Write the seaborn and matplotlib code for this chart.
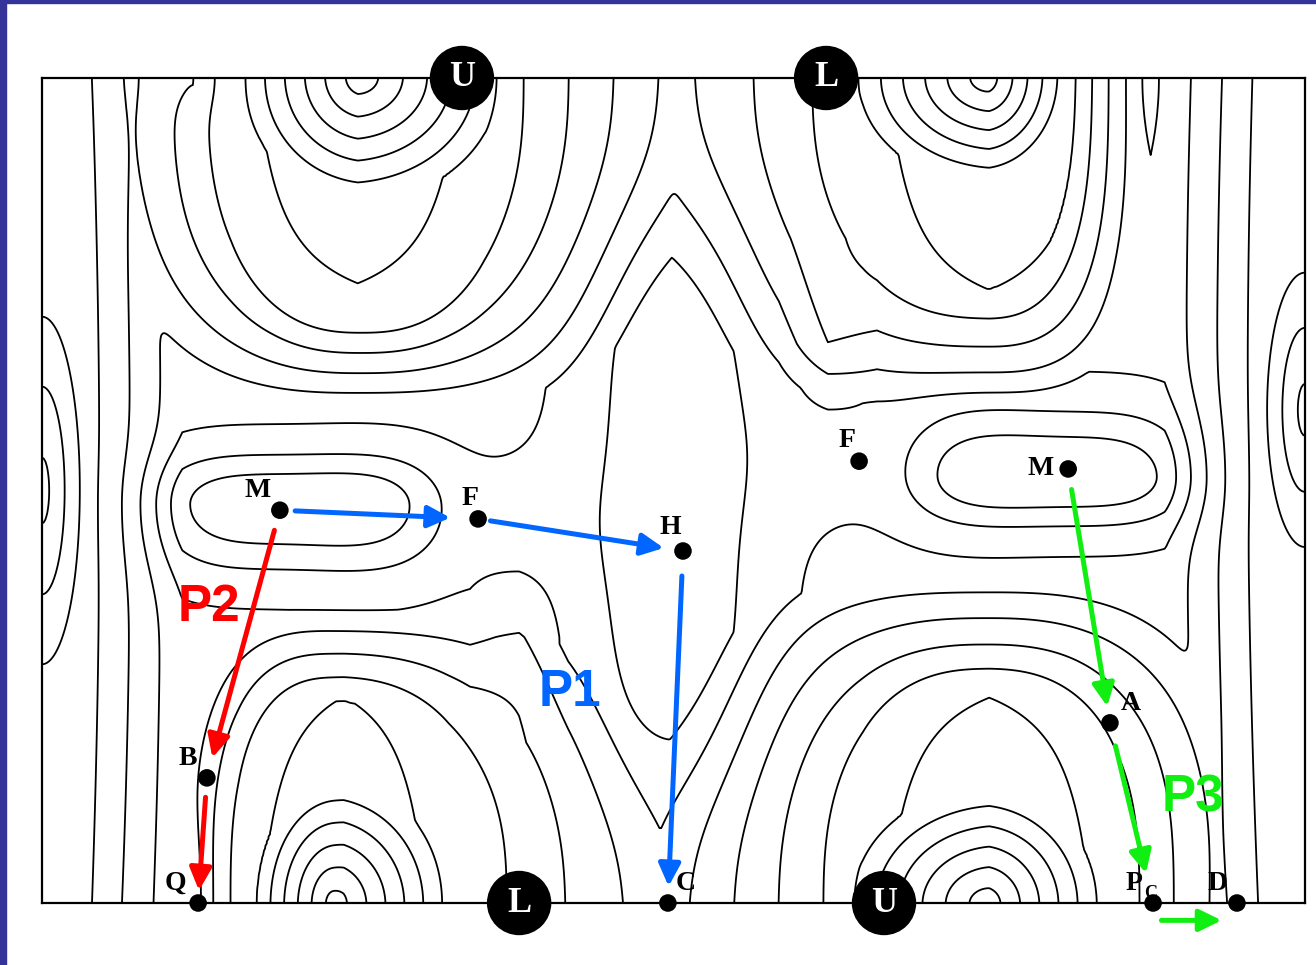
import numpy as np
import pandas as pd
import matplotlib
matplotlib.use("Agg")
import matplotlib.pyplot as plt
from matplotlib.patches import Rectangle
from matplotlib.transforms import offset_copy
import seaborn as sns

# ---------------------------------------------------------------
# Stationary points on the (phi, theta) conformational map, degrees
# ---------------------------------------------------------------
point_names = ["M", "F", "H", "B", "Q", "C", "F", "M", "A", "P", "D"]
point_phi = [67.8, 124.3, 182.7, 47.0, 44.5, 178.4, 232.9, 292.5, 304.4, 316.7, 340.6]
point_theta = [85.7, 83.8, 76.8, 27.3, 0.0, 0.0, 96.4, 94.7, 39.3, 0.0, 0.0]

# Boundary conformers marked on the top and bottom edges
edge_names = ["U", "L", "L", "U"]
edge_phi = [119.7, 223.5, 136.0, 240.0]
edge_theta = [180.0, 180.0, 0.0, 0.0]

# Pathways as pairs of point indices
path_P1 = [(0, 1), (1, 2), (2, 5)]
path_P2 = [(0, 3), (3, 4)]
path_P3 = [(7, 8), (8, 9)]
path_P3_edge = [(9, 10)]

# ---------------------------------------------------------------
# Energy surface (kcal/mol)
# ---------------------------------------------------------------
surface_base = 3.3

# plateaus (smooth maximum): TL, BR, TR, BL, left edge, right edge
mesa_phi = [91, 269, 269, 83, 0, 360]
mesa_theta = [180, 0, 180, 0, 90, 108]
mesa_height = [4.5, 4.5, 3.5, 3.5, 3.2, 3.2]
mesa_in_l = [36, 36, 36, 25, 12, 12]
mesa_in_r = [36, 36, 25, 36, 12, 12]
mesa_in_d = [52, 10, 46, 10, 200, 200]
mesa_in_u = [10, 46, 10, 44, 200, 200]
mesa_out_l = [80, 94, 95, 44, 40, 40]
mesa_out_r = [94, 80, 44, 95, 40, 40]
mesa_out_d = [72, 10, 72, 10, 300, 300]
mesa_out_u = [10, 72, 10, 64, 300, 300]
mesa_p_in = [2.5, 2.5, 2.5, 2.5, 2, 2]
mesa_p_out = [3, 3, 3, 3, 2, 2]

# cones (added on top of the plateaus)
cone_phi = [91, 269, 269, 83, 0, 360]
cone_theta = [180, 0, 180, 0, 90, 107.6]
cone_height = [5.0, 5.0, 5.0, 5.0, 3.0, 3.0]
cone_rl = [34, 40, 38, 22, 13, 13]
cone_rr = [42, 32, 24, 32, 13, 13]
cone_rd = [26, 10, 22, 10, 45.6, 36]
cone_ru = [10, 24, 10, 26, 45.6, 36]

# straight-sided ridges: rise from tip to crest, fade out towards end
wedge_phi = [90, 270, 86, 270, 224, 136]
wedge_tip = [124, 122, 58, 56, 105, 75]
wedge_crest = [180, 180, 0, 0, 122, 58]
wedge_end = [999, 999, -999, -999, 145, 35]
wedge_height = [1.0, 1.0, 0.9, 1.0, 0.8, 0.8]
wedge_w = [36, 36, 30, 36, 14, 14]

# wells: M, M, H valley, two F passes
well_phi = [72, 288, 180, 126, 234]
well_theta = [87, 93, 89, 83, 97]
well_depth = [-3.2, -3.2, -2.12, -0.5, -0.5]
well_wl = [33, 33, 18.2, 25, 25]
well_wr = [33, 33, 18.2, 25, 25]
well_wd = [10.5, 8, 53.7, 12, 12]
well_wu = [8, 10.5, 52.3, 12, 12]
well_px = [4, 4, 2, 2, 2]
well_py = [2, 2, 4, 2, 2]

# narrow grooves entering from the top and bottom edges
groove_phi = [316, 44, 43]
groove_theta = [180, 0, 180]
groove_depth = [-0.8, -0.8, -0.6]
groove_w = [1.2, 1.2, 3.0]
groove_len = [12, 12, 5]

contour_levels = list(range(1, 15))

# ---------------------------------------------------------------
phi = np.linspace(0, 360, 721)
theta = np.linspace(0, 180, 361)
PHI, THETA = np.meshgrid(phi, theta)


def side(d, neg, pos):
    return np.where(d < 0, neg, pos)


def bump(x0, y0, a, wl, wr, wd, wu, px, py):
    dx = PHI - x0
    dy = THETA - y0
    e = np.abs(dx / side(dx, wl, wr)) ** px + np.abs(dy / side(dy, wd, wu)) ** py
    return a * np.exp(-0.5 * e)


def mesa(x0, y0, h, il, ir, idn, iup, ol, orr, odn, oup, pin, pout):
    dx = PHI - x0
    dy = THETA - y0
    ri = (np.abs(dx / side(dx, il, ir)) ** pin
          + np.abs(dy / side(dy, idn, iup)) ** pin) ** (1 / pin)
    ro = (np.abs(dx / side(dx, ol, orr)) ** pout
          + np.abs(dy / side(dy, odn, oup)) ** pout) ** (1 / pout)
    with np.errstate(divide="ignore", invalid="ignore"):
        f = ri * (1 - ro) / (ri - ro)
    f = np.where(ri <= 1, 1.0, f)
    f = np.where(ro >= 1, 0.0, f)
    return h * np.clip(np.nan_to_num(f, nan=1.0), 0, 1)


def cone(x0, y0, h, rl, rr, rd, ru):
    dx = PHI - x0
    dy = THETA - y0
    r = np.sqrt((dx / side(dx, rl, rr)) ** 2 + (dy / side(dy, rd, ru)) ** 2
                + 0.003)
    return h * np.clip(1 - r, 0, None)


def wedge(x0, tip, crest, end, a, w):
    tent = np.clip(1 - np.abs(PHI - x0) / w, 0, 1)
    rise = np.clip((THETA - tip) / (crest - tip), 0, 1)
    fade = np.clip((end - THETA) / (end - crest), 0, 1)
    return a * tent * rise * fade


plateaus = [mesa(*a) for a in zip(mesa_phi, mesa_theta, mesa_height,
                                   mesa_in_l, mesa_in_r, mesa_in_d, mesa_in_u,
                                   mesa_out_l, mesa_out_r, mesa_out_d,
                                   mesa_out_u, mesa_p_in, mesa_p_out)]
m = 5.0
Z = surface_base + np.sum(np.array(plateaus) ** m, axis=0) ** (1 / m)
for a in zip(cone_phi, cone_theta, cone_height, cone_rl, cone_rr, cone_rd,
             cone_ru):
    Z += cone(*a)
for a in zip(wedge_phi, wedge_tip, wedge_crest, wedge_end, wedge_height,
             wedge_w):
    Z += wedge(*a)
for a in zip(well_phi, well_theta, well_depth, well_wl, well_wr, well_wd,
             well_wu, well_px, well_py):
    Z += bump(*a)
for x0, y0, a, w, ln in zip(groove_phi, groove_theta, groove_depth,
                            groove_w, groove_len):
    Z += bump(x0, y0, a, w, w, ln, ln, 1, 2)

sns.set_theme(style="white")
plt.rcParams["font.family"] = ["Liberation Serif", "DejaVu Serif"]

W, H = 1316, 965
fig = plt.figure(figsize=(W / 100, H / 100), dpi=100)
fig.patch.set_facecolor("white")
ax = fig.add_axes([42 / W, 62 / H, 1263 / W, 825 / H])

ax.contour(PHI, THETA, Z, levels=contour_levels, colors="black",
           linewidths=1.3)
ax.set_xlim(0, 360)
ax.set_ylim(0, 180)
ax.set_xticks([])
ax.set_yticks([])
for s in ax.spines.values():
    s.set_color("black")
    s.set_linewidth(1.6)

# navy slide frame
fig.patches.append(Rectangle((0, 0), 6 / W, 1, transform=fig.transFigure,
                             color="#333399", zorder=10))
fig.patches.append(Rectangle((0, 1 - 3 / H), 1, 3 / H,
                             transform=fig.transFigure, color="#333399",
                             zorder=10))


def arrow(i, j, color, sa, sb, trans=None):
    ax.annotate("", xy=(point_phi[j], point_theta[j]),
                xytext=(point_phi[i], point_theta[i]),
                xycoords=trans or ax.transData,
                textcoords=trans or ax.transData,
                arrowprops=dict(arrowstyle="-|>,head_length=0.45,head_width=0.22",
                                color=color, lw=3.6, mutation_scale=30,
                                shrinkA=sa, shrinkB=sb),
                annotation_clip=False, zorder=6)


blue, red, green = "#0066ff", "#ff0000", "#11ee11"
for (i, j), sa, sb in zip(path_P1, [11, 9, 18], [20, 14, 12]):
    arrow(i, j, blue, sa, sb)
for (i, j), sa, sb in zip(path_P2, [15, 14], [15, 9]):
    arrow(i, j, red, sa, sb)
for (i, j), sa, sb in zip(path_P3, [15, 17], [12, 22]):
    arrow(i, j, green, sa, sb)
below = offset_copy(ax.transData, fig=fig, y=-12.5, units="points")
for (i, j) in path_P3_edge:
    arrow(i, j, green, 6, 11, trans=below)

# stationary points
pts = pd.DataFrame({"phi": point_phi, "theta": point_theta})
sns.scatterplot(data=pts, x="phi", y="theta", ax=ax, color="black", s=160,
                edgecolor="none", zorder=8, clip_on=False, legend=False)
label_dx = [-16, -6, -9, -14, -16, 13, -9, -20, 15, -14, -14]
label_dy = [14, 15, 17, 14, 14, 14, 15, 0, 14, 14, 14]
for k, name in enumerate(point_names):
    ax.annotate(name, (point_phi[k], point_theta[k]),
                xytext=(label_dx[k], label_dy[k]), textcoords="offset points",
                ha="center", va="center", fontsize=20, fontweight="bold",
                color="black", zorder=9, annotation_clip=False)
ax.annotate("C", (point_phi[9], point_theta[9]), xytext=(-2, 7),
            textcoords="offset points", ha="center", va="center",
            fontsize=13, fontweight="bold", color="black", zorder=9,
            annotation_clip=False)

# boundary conformers
edges = pd.DataFrame({"phi": edge_phi, "theta": edge_theta})
sns.scatterplot(data=edges, x="phi", y="theta", ax=ax, color="black",
                s=2150, edgecolor="none", zorder=8, clip_on=False,
                legend=False)
for name, x, y in zip(edge_names, edge_phi, edge_theta):
    ax.text(x, y, name, ha="center", va="center", fontsize=26,
            fontweight="bold", color="white", zorder=9)

# pathway names
sans = ["Liberation Sans", "DejaVu Sans"]
ax.text(150.5, 46, "P1", color=blue, fontsize=37, fontweight="bold",
        family=sans, ha="center", va="center", zorder=7)
ax.text(47.5, 64.5, "P2", color=red, fontsize=37, fontweight="bold",
        family=sans, ha="center", va="center", zorder=7)
ax.text(328, 23, "P3", color=green, fontsize=37, fontweight="bold",
        family=sans, ha="center", va="center", zorder=7)

ax.set_xlabel("")
ax.set_ylabel("")
fig.savefig("out.png", dpi=100, facecolor="white")
